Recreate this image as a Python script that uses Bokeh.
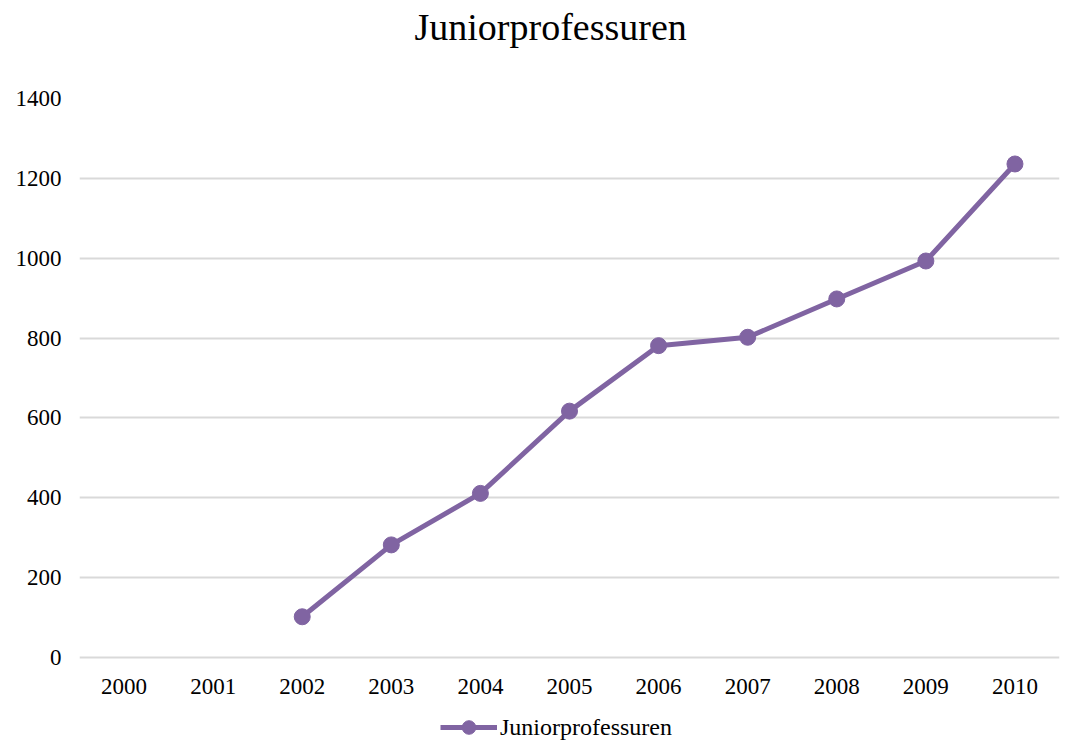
from bokeh.plotting import figure
from bokeh.models import Range1d, FactorRange, Legend, LegendItem, FixedTicker, Title
from bokeh.embed import file_html
from bokeh.resources import INLINE

years = ["2000", "2001", "2002", "2003", "2004", "2005", "2006", "2007", "2008", "2009", "2010"]
data_years = ["2002", "2003", "2004", "2005", "2006", "2007", "2008", "2009", "2010"]
values = [102, 282, 411, 617, 781, 802, 898, 993, 1236]
y_ticks = [0, 200, 400, 600, 800, 1000, 1200, 1400]

FONT = "Liberation Serif"
COLOR = "#8064A2"

p = figure(frame_width=980, frame_height=644, x_range=FactorRange(factors=years, range_padding=0),
           y_range=Range1d(-212.9, 1400), output_backend="svg", toolbar_location=None,
           x_axis_location=None,
           min_border_left=79, min_border_right=12, min_border_top=0, min_border_bottom=0)
p.title = None

# spacer nearest to the frame, then the real title above it
p.add_layout(Title(text=" ", text_font_size="10px", standoff=31), "above")
p.add_layout(Title(text="Juniorprofessuren", text_font=FONT, text_font_size="38px",
                   text_font_style="normal", align="left", offset=335, vertical_align="top",
                   text_color="#000000", standoff=10), "above")

line = p.line(data_years, values, line_color=COLOR, line_width=5)
pts = p.scatter(data_years, values, size=16, fill_color=COLOR, line_color=COLOR)

# category labels under the baseline
p.text(x=years, y=[0] * len(years), text=years, y_offset=29,
       text_align="center", text_baseline="middle",
       text_font="Liberation Serif", text_font_size="23px", text_color="#000000")

p.outline_line_color = None
p.xgrid.grid_line_color = None
p.ygrid.grid_line_color = "#d9d9d9"
p.ygrid.grid_line_width = 2
p.yaxis.ticker = FixedTicker(ticks=y_ticks)

p.yaxis.axis_line_color = None
p.yaxis.major_tick_line_color = None
p.yaxis.minor_tick_line_color = None
p.yaxis.major_tick_out = 0
p.yaxis.major_label_standoff = 18
p.yaxis.major_label_text_font = FONT
p.yaxis.major_label_text_font_size = "23px"
p.yaxis.major_label_text_color = "#000000"

legend = Legend(items=[LegendItem(label="Juniorprofessuren", renderers=[line, pts])],
                location=(361, -2), orientation="horizontal",
                label_text_font=FONT, label_text_font_size="24px", label_text_color="#000000",
                glyph_width=57, glyph_height=34, border_line_color=None,
                background_fill_alpha=0, padding=0, margin=0, label_standoff=3)
p.add_layout(legend, "center")

open("out.html", "w").write(file_html(p, INLINE))
